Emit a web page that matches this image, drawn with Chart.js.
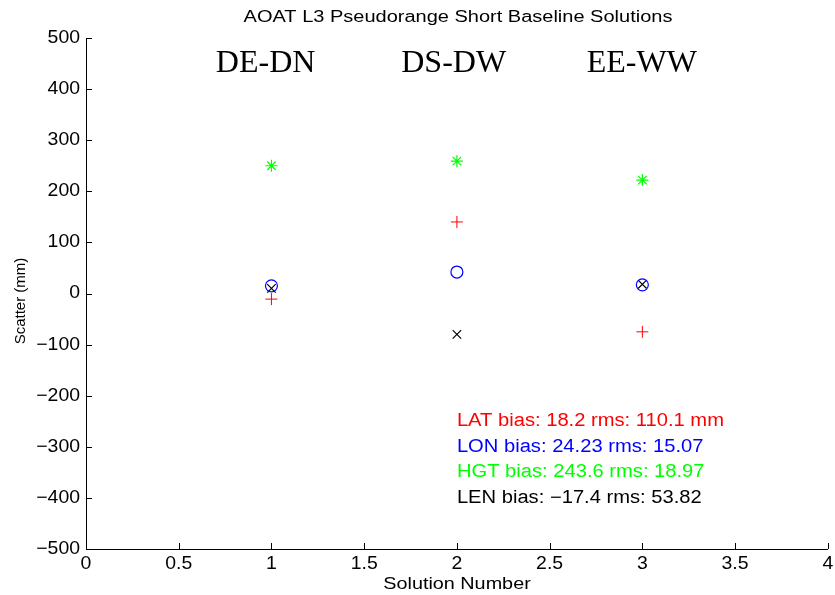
<!DOCTYPE html>
<html>
<head>
<meta charset="utf-8">
<script src="https://cdn.jsdelivr.net/npm/chart.js@4.4.0/dist/chart.umd.min.js"></script>
<style>
  html, body { margin: 0; padding: 0; background: #fff; }
  #wrap { width: 835px; height: 595px; }
</style>
</head>
<body>
<div id="wrap"><canvas id="scatterChart" width="835" height="595"></canvas></div>
<script>
const solutions = [1, 2, 3];
const latValues = [-11, 140, -75];
const lonValues = [15, 42, 17];
const hgtValues = [250, 259, 222];
const lenValues = [10, -80, 18];

const baselineNames = ["DE-DN", "DS-DW", "EE-WW"];
const baselineX = [0.7, 1.7, 2.7];
const baselineY = 450;

const statLines = [
  "LAT bias: 18.2 rms: 110.1 mm",
  "LON bias: 24.23 rms: 15.07",
  "HGT bias: 243.6 rms: 18.97",
  "LEN bias: \u221217.4 rms: 53.82",
];
const statColors = ["#ff0000", "#0000ff", "#00ff00", "#000000"];
const statX = 2.0;
const statY = [-250, -300, -350, -400];

const xTicks = [0, 0.5, 1, 1.5, 2, 2.5, 3, 3.5, 4];
const yTicks = [-500, -400, -300, -200, -100, 0, 100, 200, 300, 400, 500];

const sansFont = "'Liberation Sans', Arial, Helvetica, sans-serif";

function toPoints(values) {
  return solutions.map((s, i) => ({ x: s, y: values[i] }));
}

function fmtTick(v) {
  return v < 0 ? "\u2212" + Math.abs(v) : String(v);
}

// matlab export text looks horizontally stretched, so draw it with a scale
function stretchText(ctx, text, x, y, size, sx, align) {
  ctx.save();
  ctx.font = size + "px " + sansFont;
  ctx.textAlign = align;
  ctx.textBaseline = "middle";
  ctx.translate(x, y);
  ctx.scale(sx, 1);
  ctx.fillText(text, 0, 0);
  ctx.restore();
}

/* ---------- extra drawing: inward ticks, tick labels, titles, text ---------- */
const extrasPlugin = {
  id: "extras",
  afterDraw(chart) {
    const ctx = chart.ctx;
    const xs = chart.scales.x;
    const ys = chart.scales.y;
    const area = chart.chartArea;

    ctx.save();
    ctx.strokeStyle = "#000";
    ctx.lineWidth = 1;
    ctx.beginPath();
    yTicks.forEach((v) => {
      const py = Math.round(ys.getPixelForValue(v)) + 0.5;
      ctx.moveTo(area.left, py);
      ctx.lineTo(area.left + 6, py);
    });
    xTicks.forEach((v) => {
      const px = Math.round(xs.getPixelForValue(v)) + 0.5;
      ctx.moveTo(px, area.bottom);
      ctx.lineTo(px, area.bottom - 6);
    });
    ctx.stroke();

    ctx.fillStyle = "#000";
    yTicks.forEach((v) => {
      stretchText(ctx, fmtTick(v), area.left - 6, ys.getPixelForValue(v), 18, 1.08, "right");
    });
    xTicks.forEach((v) => {
      stretchText(ctx, fmtTick(v), xs.getPixelForValue(v), 564, 18, 1.08, "center");
    });

    // titles
    stretchText(ctx, "AOAT L3 Pseudorange Short Baseline Solutions", 458, 18, 16, 1.25, "center");
    stretchText(ctx, "Solution Number", 457, 584, 16.5, 1.2, "center");

    ctx.save();
    ctx.translate(21, 301);
    ctx.rotate(-Math.PI / 2);
    ctx.font = "15px " + sansFont;
    ctx.textAlign = "center";
    ctx.textBaseline = "middle";
    ctx.fillText("Scatter (mm)", 0, 0);
    ctx.restore();

    // baseline names
    ctx.font = "32px 'Liberation Serif', 'Times New Roman', serif";
    ctx.textAlign = "left";
    ctx.textBaseline = "middle";
    baselineNames.forEach((name, i) => {
      ctx.fillText(name, xs.getPixelForValue(baselineX[i]), ys.getPixelForValue(baselineY));
    });

    // stats text
    statLines.forEach((line, i) => {
      ctx.fillStyle = statColors[i];
      stretchText(ctx, line, xs.getPixelForValue(statX), ys.getPixelForValue(statY[i]), 18, 1.12, "left");
    });
    ctx.restore();
  },
};

const ctx = document.getElementById("scatterChart");

new Chart(ctx, {
  type: "scatter",
  data: {
    datasets: [
      {
        label: "LAT",
        data: toPoints(latValues),
        pointStyle: "cross",
        pointRadius: 6,
        borderColor: "#ff0000",
        backgroundColor: "#ff0000",
        borderWidth: 1,
      },
      {
        label: "LON",
        data: toPoints(lonValues),
        pointStyle: "circle",
        pointRadius: 6,
        borderColor: "#0000ff",
        backgroundColor: "rgba(0,0,0,0)",
        borderWidth: 1.2,
      },
      {
        label: "HGT",
        data: toPoints(hgtValues),
        pointStyle: "star",
        pointRadius: 6,
        borderColor: "#00ff00",
        backgroundColor: "#00ff00",
        borderWidth: 1.2,
      },
      {
        label: "LEN",
        data: toPoints(lenValues),
        pointStyle: "crossRot",
        pointRadius: 6,
        borderColor: "#000000",
        backgroundColor: "#000000",
        borderWidth: 1.2,
      },
    ],
  },
  options: {
    responsive: false,
    animation: false,
    layout: { padding: { top: 38, right: 6, left: 0, bottom: 0 } },
    plugins: {
      legend: { display: false },
      tooltip: { enabled: false },
      title: { display: false },
    },
    scales: {
      x: {
        type: "linear",
        min: 0,
        max: 4,
        afterBuildTicks: (axis) => {
          axis.ticks = xTicks.map((v) => ({ value: v }));
        },
        grid: { display: false, drawTicks: false },
        border: { display: true, color: "#000", width: 1 },
        ticks: { display: false },
        afterFit: (axis) => {
          axis.height = 46;
        },
      },
      y: {
        type: "linear",
        min: -500,
        max: 500,
        afterBuildTicks: (axis) => {
          axis.ticks = yTicks.map((v) => ({ value: v }));
        },
        grid: { display: false, drawTicks: false },
        border: { display: true, color: "#000", width: 1 },
        ticks: { display: false },
        afterFit: (axis) => {
          axis.width = 86;
        },
      },
    },
  },
  plugins: [extrasPlugin],
});
</script>
</body>
</html>
